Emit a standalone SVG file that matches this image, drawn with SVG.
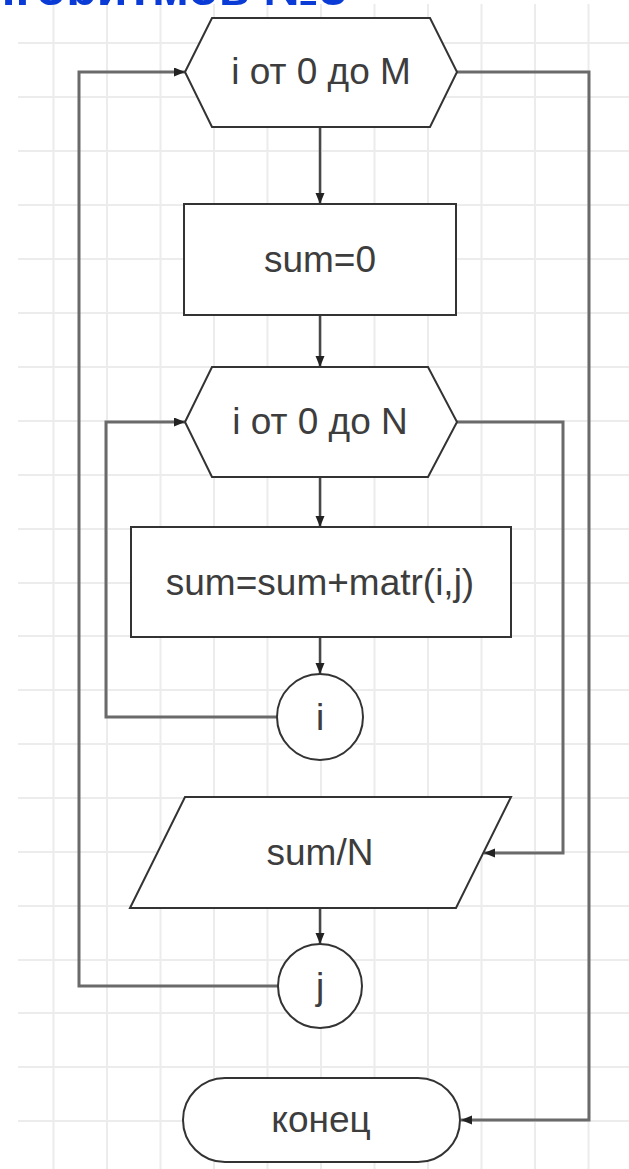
<svg xmlns="http://www.w3.org/2000/svg" width="629" height="1169" viewBox="0 0 629 1169">
  <defs>
    <style>
      .grid line { stroke: #ececec; stroke-width: 2; }
      .shape { fill: #ffffff; stroke: #333333; stroke-width: 2; }
      .lbl { font-family: "Liberation Sans", Arial, sans-serif; font-size: 37px; fill: #3d3d3d; text-anchor: middle; }
      .flow { fill: none; stroke: #484848; stroke-width: 2.5; }
      .loop { fill: none; stroke: #6a6a6a; stroke-width: 3; }
      .title { font-family: "Liberation Sans", Arial, sans-serif; font-weight: bold; font-size: 50px; fill: #0a3bd6; text-anchor: end; }
    </style>
    <marker id="arrow" markerUnits="userSpaceOnUse" markerWidth="12" markerHeight="10" refX="11" refY="4.5" orient="auto">
      <path d="M0,0 L11,4.5 L0,9 z" fill="#222222"/>
    </marker>
    <clipPath id="titleBand">
      <rect x="0" y="0" width="629" height="5"/>
    </clipPath>
  </defs>

  <rect x="0" y="0" width="629" height="1169" fill="#ffffff"/>

  <!-- background grid -->
  <g class="grid">
    <line x1="18" y1="43" x2="629" y2="43"/>
    <line x1="18" y1="97" x2="629" y2="97"/>
    <line x1="18" y1="151" x2="629" y2="151"/>
    <line x1="18" y1="205" x2="629" y2="205"/>
    <line x1="18" y1="259" x2="629" y2="259"/>
    <line x1="18" y1="313" x2="629" y2="313"/>
    <line x1="18" y1="367" x2="629" y2="367"/>
    <line x1="18" y1="421" x2="629" y2="421"/>
    <line x1="18" y1="475" x2="629" y2="475"/>
    <line x1="18" y1="529" x2="629" y2="529"/>
    <line x1="18" y1="583" x2="629" y2="583"/>
    <line x1="18" y1="636" x2="629" y2="636"/>
    <line x1="18" y1="690" x2="629" y2="690"/>
    <line x1="18" y1="744" x2="629" y2="744"/>
    <line x1="18" y1="798" x2="629" y2="798"/>
    <line x1="18" y1="852" x2="629" y2="852"/>
    <line x1="18" y1="906" x2="629" y2="906"/>
    <line x1="18" y1="960" x2="629" y2="960"/>
    <line x1="18" y1="1013" x2="629" y2="1013"/>
    <line x1="18" y1="1067" x2="629" y2="1067"/>
    <line x1="18" y1="1121" x2="629" y2="1121"/>
    <line x1="53.5" y1="4" x2="53.5" y2="1169"/>
    <line x1="107" y1="4" x2="107" y2="1169"/>
    <line x1="160.5" y1="4" x2="160.5" y2="1169"/>
    <line x1="214" y1="4" x2="214" y2="1169"/>
    <line x1="267.5" y1="4" x2="267.5" y2="1169"/>
    <line x1="321" y1="4" x2="321" y2="1169"/>
    <line x1="374.5" y1="4" x2="374.5" y2="1169"/>
    <line x1="428" y1="4" x2="428" y2="1169"/>
    <line x1="481.5" y1="4" x2="481.5" y2="1169"/>
    <line x1="535" y1="4" x2="535" y2="1169"/>
    <line x1="588.5" y1="4" x2="588.5" y2="1169"/>
  </g>

  <!-- heading, cut at the top edge -->
  <g id="heading" clip-path="url(#titleBand)">
    <text class="title" x="347" y="5">Алгоритмов №3</text>
  </g>

  <!-- connectors -->
  <g id="connectors">
    <path class="flow" d="M320,127 V204" marker-end="url(#arrow)"/>
    <path class="flow" d="M320,315 V367" marker-end="url(#arrow)"/>
    <path class="flow" d="M320,477 V527" marker-end="url(#arrow)"/>
    <path class="flow" d="M320,637 V674" marker-end="url(#arrow)"/>
    <path class="flow" d="M320,908 V944" marker-end="url(#arrow)"/>
    <path class="loop" d="M277,717 H106 V422 H185" marker-end="url(#arrow)"/>
    <path class="loop" d="M457,422 H563 V853 H484" marker-end="url(#arrow)"/>
    <path class="loop" d="M278,986 H79 V72 H185" marker-end="url(#arrow)"/>
    <path class="loop" d="M457,72 H589 V1120 H461" marker-end="url(#arrow)"/>
  </g>

  <g id="loop-m">
    <polygon class="shape" points="185,72 212,18 430,18 457,72 430,127 212,127"/>
    <text class="lbl" x="321" y="84">i от 0 до M</text>
  </g>

  <g id="init-sum">
    <rect class="shape" x="184" y="204" width="272" height="111"/>
    <text class="lbl" x="320" y="272">sum=0</text>
  </g>

  <g id="loop-n">
    <polygon class="shape" points="185,422 212,367 428,367 457,422 428,477 212,477"/>
    <text class="lbl" x="320" y="434">i от 0 до N</text>
  </g>

  <g id="accumulate">
    <rect class="shape" x="131" y="527" width="380" height="110"/>
    <text class="lbl" x="320" y="595">sum=sum+matr(i,j)</text>
  </g>

  <g id="end-i">
    <circle class="shape" cx="320" cy="717" r="43"/>
    <text class="lbl" x="320" y="730">i</text>
  </g>

  <g id="output">
    <polygon class="shape" points="185,797 511,797 456,908 130,908"/>
    <text class="lbl" x="320" y="865">sum/N</text>
  </g>

  <g id="end-j">
    <circle class="shape" cx="320" cy="986" r="42"/>
    <text class="lbl" x="320" y="999">j</text>
  </g>

  <g id="finish">
    <rect class="shape" x="183" y="1078" width="277" height="84" rx="42" ry="42"/>
    <text class="lbl" x="321" y="1132">конец</text>
  </g>
</svg>
